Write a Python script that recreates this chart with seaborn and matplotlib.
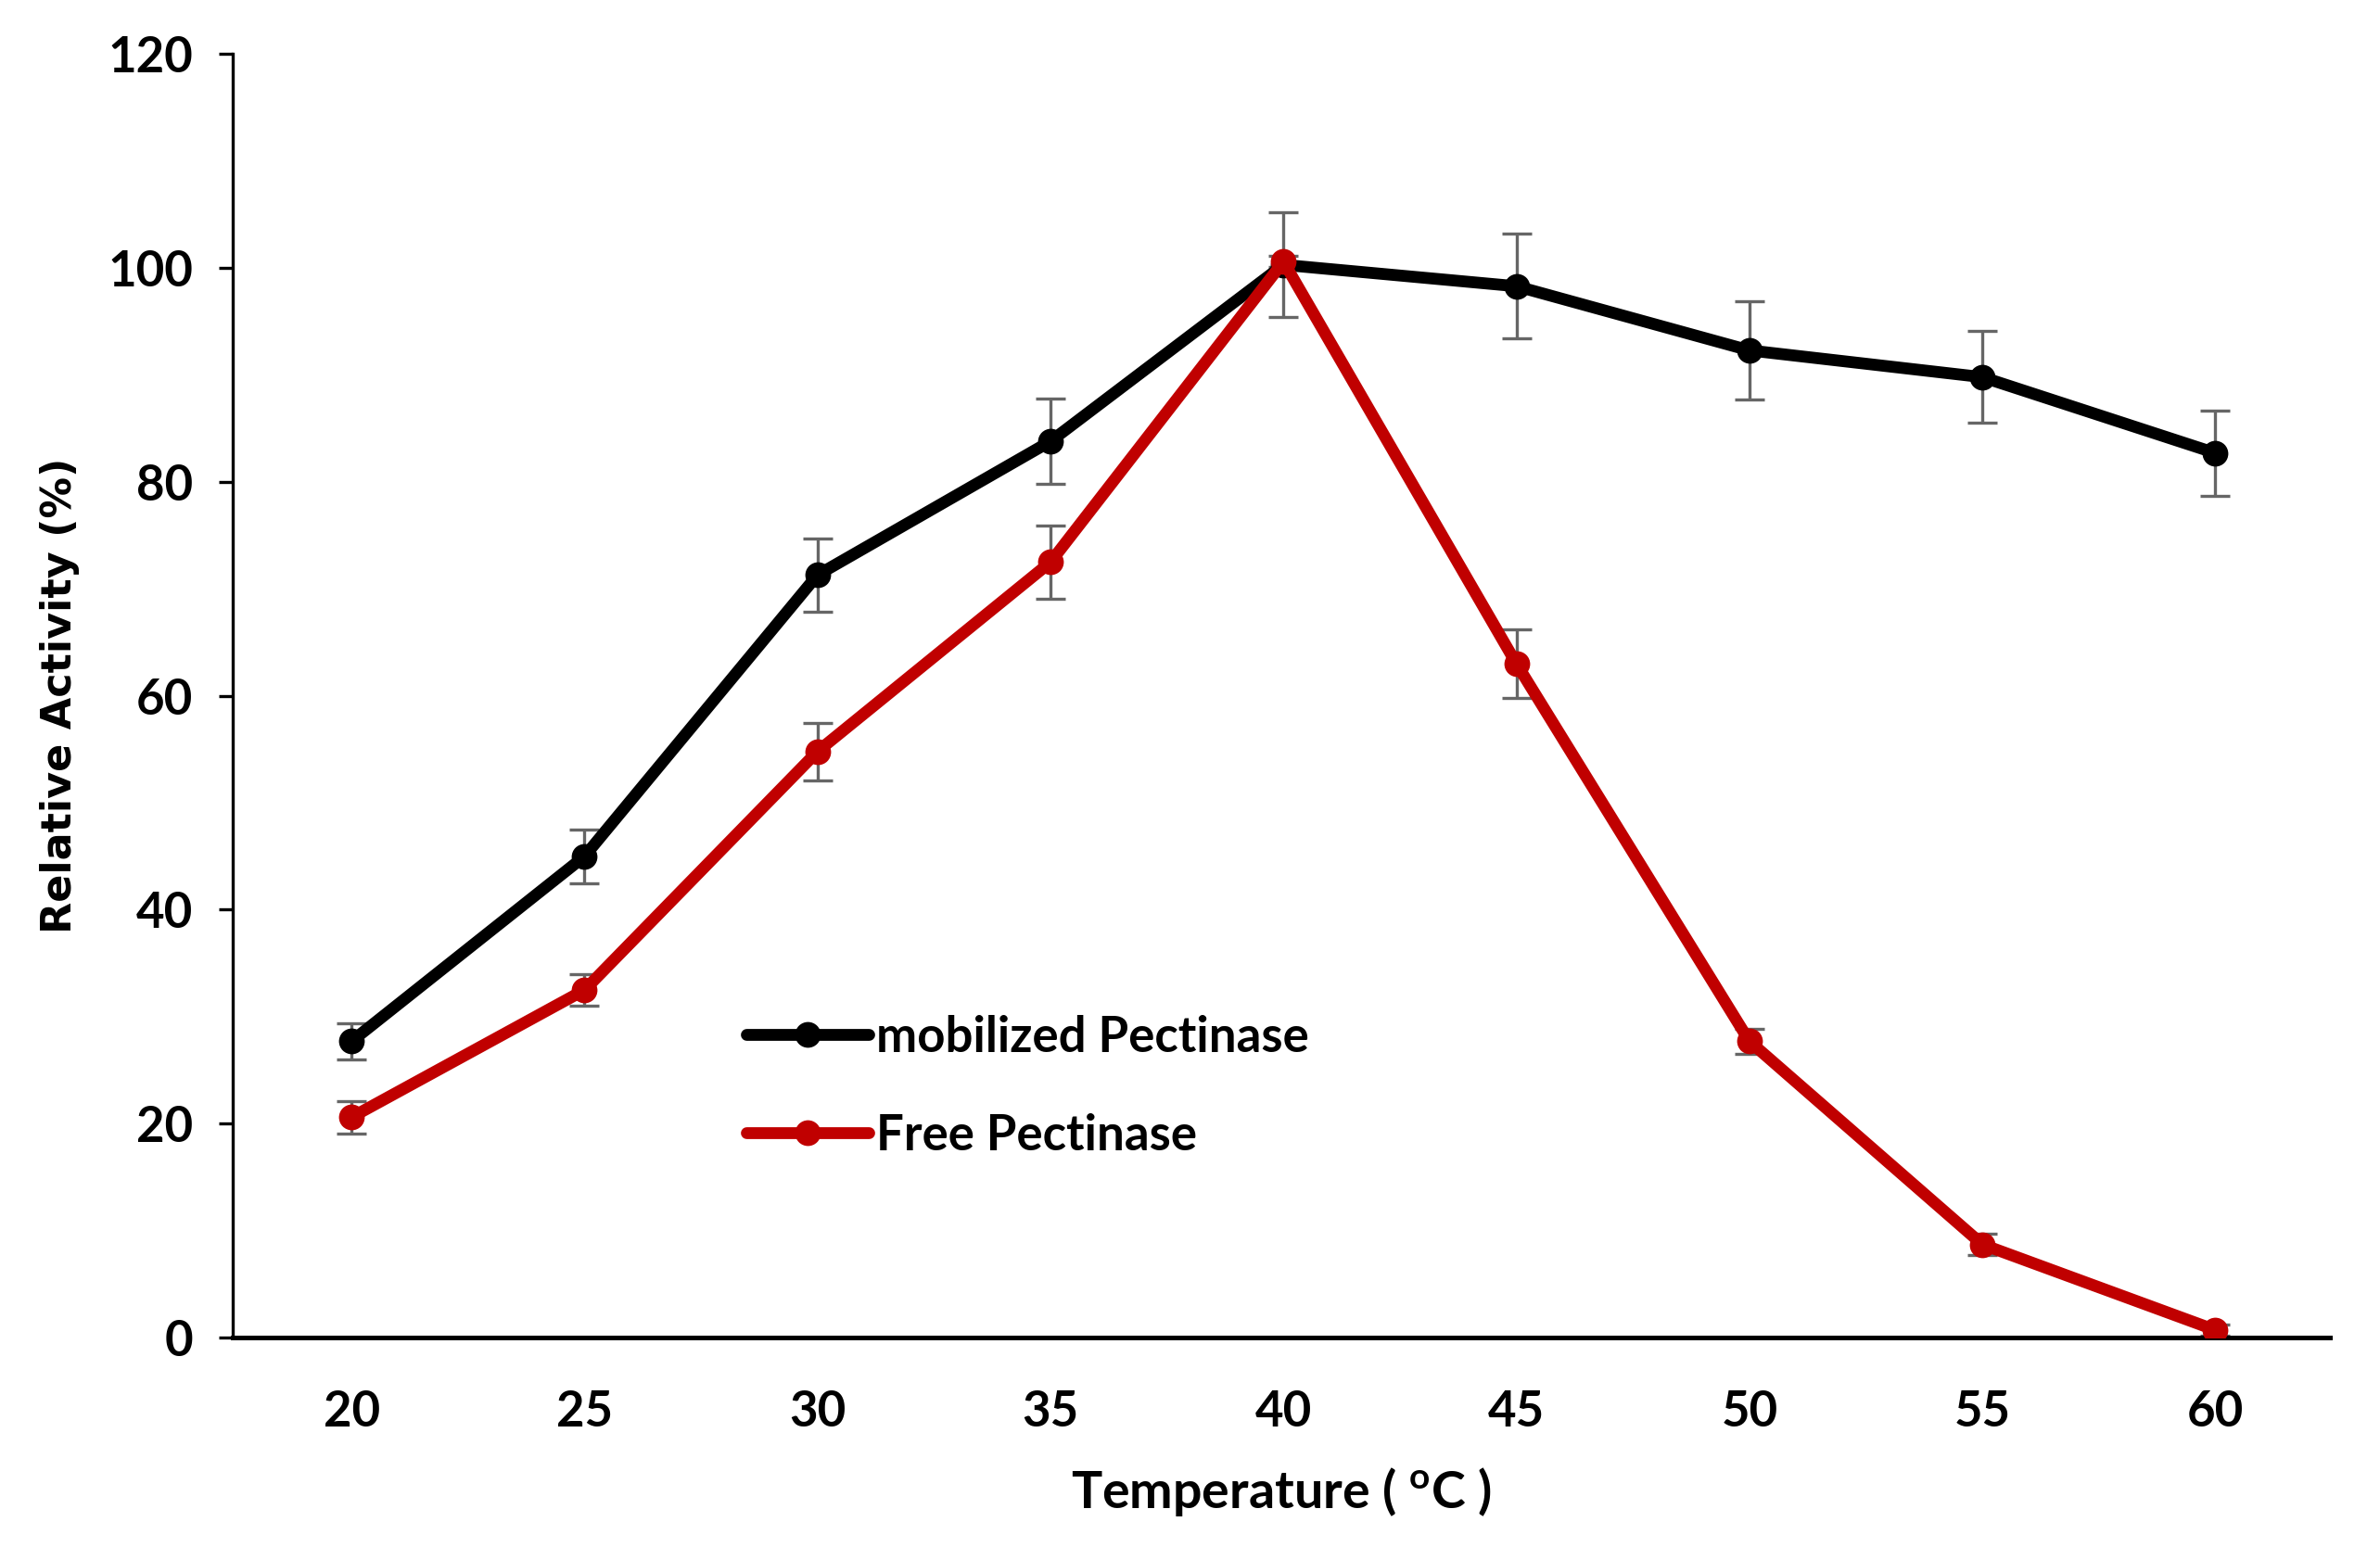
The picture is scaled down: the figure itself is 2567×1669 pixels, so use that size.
import pandas as pd
import seaborn as sns
import matplotlib.pyplot as plt

temperature = [20, 25, 30, 35, 40, 45, 50, 55, 60]
immobilized = [27.7, 45.0, 71.3, 83.8, 100.3, 98.3, 92.3, 89.8, 82.7]
immobilized_err = [1.7, 2.5, 3.4, 4.0, 4.9, 4.9, 4.6, 4.3, 4.0]
free = [20.6, 32.5, 54.8, 72.5, 100.6, 63.0, 27.7, 8.7, 0.7]
free_err = [1.5, 1.5, 2.7, 3.4, 0.5, 3.2, 1.2, 1.0, 0.5]
series_names = ["mobilized Pectinase", "Free Pectinase"]
y_ticks = [0, 20, 40, 60, 80, 100, 120]

df = pd.DataFrame({
    "Temperature": temperature * 2,
    "Activity": immobilized + free,
    "Enzyme": [series_names[0]] * len(temperature) + [series_names[1]] * len(temperature),
})

sns.set_style("white")
plt.rcParams['font.family'] = ['Lato', 'DejaVu Sans']
plt.rcParams['mathtext.fontset'] = 'custom'
plt.rcParams['mathtext.bf'] = 'Lato:bold'
plt.rcParams['mathtext.rm'] = 'Lato:bold'
for key in ['text.color', 'axes.labelcolor', 'xtick.color', 'ytick.color']:
    plt.rcParams[key] = 'black'

fig = plt.figure(figsize=(12.835, 8.345), dpi=200)
ax = fig.add_axes([0.0978, 0.1354, 0.881, 0.8296])

# error bars behind the lines
ax.errorbar(temperature, immobilized, yerr=immobilized_err, fmt='none', ecolor='#666666',
            elinewidth=1.2, capsize=5.8, capthick=1.2, zorder=1)
ax.errorbar(temperature, free, yerr=free_err, fmt='none', ecolor='#666666',
            elinewidth=1.2, capsize=5.8, capthick=1.2, zorder=1)

sns.lineplot(data=df, x="Temperature", y="Activity", hue="Enzyme",
             palette={series_names[0]: "black", series_names[1]: "#c00000"},
             marker='o', markersize=10, markeredgewidth=0, linewidth=4.6,
             ax=ax, zorder=3)

ax.set_xlim(17.45, 62.45)
ax.set_ylim(0, 120)
ax.set_xticks(temperature)
ax.set_xticklabels([str(t) for t in temperature])
ax.set_yticks(y_ticks)
ax.set_yticklabels([str(t) for t in y_ticks])

for side in ['top', 'right']:
    ax.spines[side].set_visible(False)
ax.spines['left'].set_color('black')
ax.spines['left'].set_linewidth(1.2)
ax.spines['bottom'].set_color('black')
ax.spines['bottom'].set_linewidth(1.8)

ax.tick_params(axis='x', length=0, pad=20, labelsize=19)
ax.tick_params(axis='y', direction='out', length=5.4, width=1.2, color='black',
               pad=10, labelsize=19, left=True)
for lab in ax.get_xticklabels() + ax.get_yticklabels():
    lab.set_fontweight('bold')

ax.set_xlabel(r"Temperature ( $^{\mathbf{o}}$C )", fontsize=20, fontweight='bold', labelpad=12)
ax.set_ylabel("Relative Activity (%)", fontsize=16, fontweight='bold',
              family=['DejaVu Sans'], labelpad=11)

leg = ax.legend(loc='upper left', bbox_to_anchor=(0.224, 0.286), frameon=False,
                handlelength=2.5, handletextpad=0.15, labelspacing=1.08,
                prop={'weight': 'bold', 'size': 19})

fig.savefig("out.png", dpi=200)
